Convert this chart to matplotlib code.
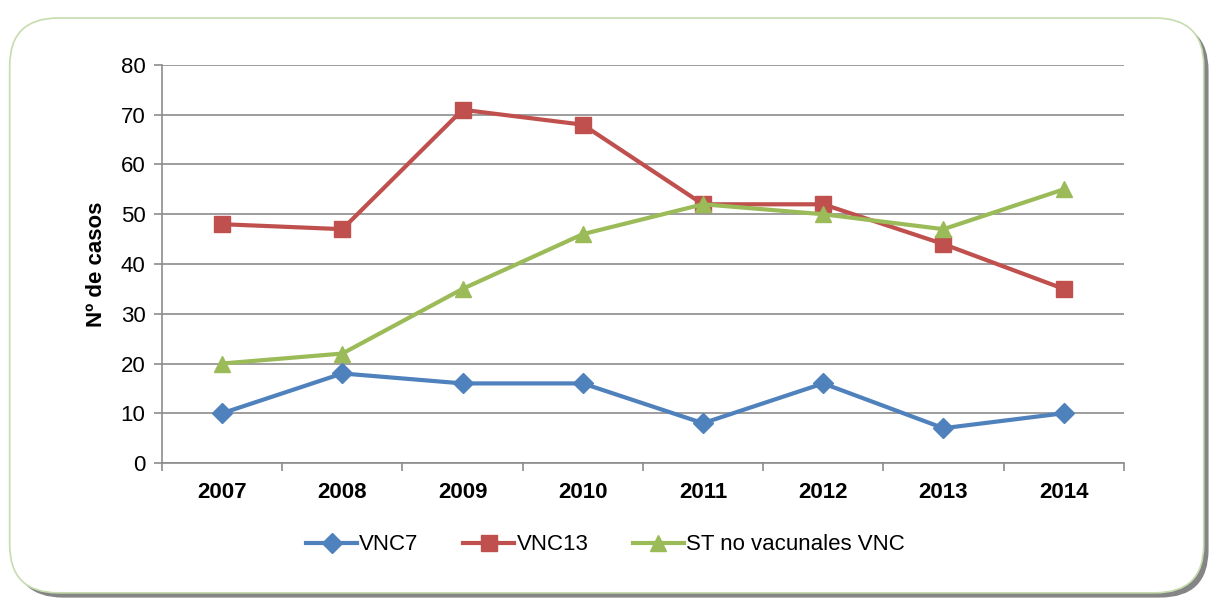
import matplotlib
matplotlib.use("Agg")
import matplotlib.pyplot as plt
from matplotlib.patches import FancyBboxPatch
import numpy as np

years = ["2007", "2008", "2009", "2010", "2011", "2012", "2013", "2014"]
vnc7 = [10, 18, 16, 16, 8, 16, 7, 10]
vnc13 = [48, 47, 71, 68, 52, 52, 44, 35]
st_no_vac = [20, 22, 35, 46, 52, 50, 47, 55]

plt.rcParams['font.family'] = ['Liberation Sans', 'DejaVu Sans']

fig = plt.figure(figsize=(12.11, 6.0), dpi=100)

# frame with shadow
shadow = FancyBboxPatch((0.012, 0.004), 0.986, 0.958, boxstyle="round,pad=0,rounding_size=0.04",
                        transform=fig.transFigure, facecolor="#707070", edgecolor="none",
                        mutation_aspect=2.0, zorder=0, alpha=0.85)
frame = FancyBboxPatch((0.008, 0.012), 0.986, 0.958, boxstyle="round,pad=0,rounding_size=0.04",
                       transform=fig.transFigure, facecolor="white", edgecolor="#c6dcae",
                       linewidth=1.2, mutation_aspect=2.0, zorder=1)
fig.patches.extend([shadow, frame])

ax = fig.add_axes([0.1338, 0.2283, 0.928 - 0.1338, 0.8917 - 0.2283])
ax.set_facecolor("none")
ax.set_zorder(2)

x = np.arange(len(years))
gray = "#8c8c8c"
ax.plot(x, vnc7, color="#4F81BD", lw=3, marker="D", ms=10, label="VNC7", zorder=3)
ax.plot(x, vnc13, color="#C0504D", lw=3, marker="s", ms=12, label="VNC13", zorder=3)
ax.plot(x, st_no_vac, color="#9BBB59", lw=3, marker="^", ms=12, label="ST no vacunales VNC", zorder=4)

ax.set_xlim(-0.5, len(years) - 0.5)
ax.set_ylim(0, 80)
ax.set_yticks(range(0, 81, 10))
ax.yaxis.grid(True, color=gray, lw=1.2)
ax.set_axisbelow(True)

ax.set_xticks(x)
ax.set_xticklabels(years, fontsize=16, fontweight="bold")
ax.set_xticks(np.arange(-0.5, len(years), 1.0), minor=True)
ax.tick_params(axis="x", which="major", length=0, pad=14)
ax.tick_params(axis="x", which="minor", length=6, color=gray, width=1.2, direction="out")
ax.tick_params(axis="y", length=6, color=gray, width=1.2, labelsize=16, pad=6)

for s in ["top", "right"]:
    ax.spines[s].set_visible(False)
for s in ["left", "bottom"]:
    ax.spines[s].set_color(gray)
    ax.spines[s].set_linewidth(1.2)

ax.set_ylabel("Nº de casos", fontsize=16, fontweight="bold", labelpad=10)

fig.legend(loc="center", bbox_to_anchor=(0.5, 0.092), ncol=3, frameon=False,
           fontsize=16, handlelength=2.3, columnspacing=2.0, handletextpad=0.1)

fig.savefig("out.png", dpi=100)
